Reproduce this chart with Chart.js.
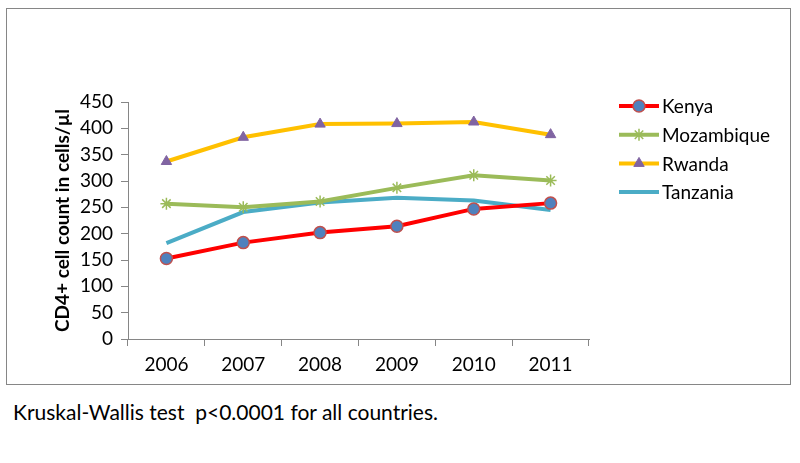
<!DOCTYPE html>
<html>
<head>
<meta charset="utf-8">
<script src="https://cdn.jsdelivr.net/npm/chart.js@4"></script>
<style>
  body { margin: 0; background: #fff; font-family: Lato, "Liberation Sans", sans-serif; }
  #box { position: absolute; left: 6px; top: 8px; width: 783px; height: 375px; border: 1px solid #868686; }
  #chart { position: absolute; left: 0; top: 0; }
  #note { position: absolute; left: 13px; top: 399px; font-size: 21px; color: #000; }
</style>
</head>
<body>
<div id="box"><canvas id="chart" width="783" height="375"></canvas></div>
<div id="note">Kruskal-Wallis test&nbsp; p&lt;0.0001 for all countries.</div>
<script>
const years = ['2006', '2007', '2008', '2009', '2010', '2011'];
const kenya = [153, 183, 202, 214, 247, 258];
const mozambique = [257, 250, 261, 287, 311, 301];
const rwanda = [337, 383, 408, 409, 412, 388];
const tanzania = [182, 241, 259, 268, 263, 245];
const yTicks = [0, 50, 100, 150, 200, 250, 300, 350, 400, 450];

const fontFam = 'Lato, "Liberation Sans", sans-serif';
const axisGray = '#868686';

// 图例：线段 + 标记
const legendPlugin = {
  id: 'lineLegend',
  afterDraw(chart) {
    const ctx = chart.ctx;
    const x0 = 612, y0 = 97, gap = 28.7;
    chart.data.datasets.forEach((ds, i) => {
      const y = y0 + i * gap;
      ctx.save();
      ctx.strokeStyle = ds.borderColor;
      ctx.lineWidth = 4;
      ctx.beginPath();
      ctx.moveTo(x0, y);
      ctx.lineTo(x0 + 40, y);
      ctx.stroke();
      if (ds.pointRadius > 0) {
        ctx.fillStyle = ds.pointBackgroundColor;
        ctx.strokeStyle = ds.pointBorderColor;
        ctx.lineWidth = ds.pointBorderWidth;
        Chart.helpers.drawPoint(ctx, {
          pointStyle: ds.pointStyle,
          radius: ds.pointRadius,
          borderWidth: ds.pointBorderWidth
        }, x0 + 20, y);
      }
      ctx.fillStyle = '#000';
      ctx.font = '19px ' + fontFam;
      ctx.textBaseline = 'middle';
      ctx.textAlign = 'left';
      ctx.fillText(ds.label, x0 + 43, y + 1);
      ctx.restore();
    });
  }
};

new Chart(document.getElementById('chart'), {
  type: 'line',
  data: {
    labels: years,
    datasets: [
      {
        label: 'Kenya', data: kenya, borderColor: '#FF0000', borderWidth: 4,
        pointStyle: 'circle', pointRadius: 6, pointBackgroundColor: '#4F81BD',
        pointBorderColor: '#C0504D', pointBorderWidth: 1.5, tension: 0
      },
      {
        label: 'Mozambique', data: mozambique, borderColor: '#9BBB59', borderWidth: 4,
        pointStyle: 'star', pointRadius: 6, pointBackgroundColor: '#9BBB59',
        pointBorderColor: '#9BBB59', pointBorderWidth: 1.5, tension: 0
      },
      {
        label: 'Rwanda', data: rwanda, borderColor: '#FFC000', borderWidth: 4,
        pointStyle: 'triangle', pointRadius: 6, pointBackgroundColor: '#8064A2',
        pointBorderColor: '#8064A2', pointBorderWidth: 1, tension: 0
      },
      {
        label: 'Tanzania', data: tanzania, borderColor: '#4BACC6', borderWidth: 4,
        pointRadius: 0, pointBackgroundColor: '#4BACC6', pointBorderColor: '#4BACC6',
        pointBorderWidth: 0, tension: 0
      }
    ]
  },
  options: {
    responsive: false,
    animation: false,
    layout: { padding: { top: 93, right: 201, left: 0, bottom: 0 } },
    plugins: { legend: { display: false }, tooltip: { enabled: false } },
    scales: {
      x: {
        offset: true,
        grid: { offset: true, drawOnChartArea: false, drawTicks: true, tickLength: 7, color: axisGray },
        border: { color: axisGray, width: 1 },
        ticks: { color: '#000', font: { size: 19, family: fontFam }, padding: 7 },
        afterFit(axis) { axis.height = 45; }
      },
      y: {
        min: 0, max: 450,
        afterBuildTicks(axis) { axis.ticks = yTicks.map(v => ({ value: v })); },
        grid: { drawOnChartArea: false, drawTicks: true, tickLength: 7, color: axisGray },
        border: { color: axisGray, width: 1 },
        ticks: { color: '#000', font: { size: 19, family: fontFam }, padding: 8 },
        title: {
          display: true, text: 'CD4+ cell count in cells/µl', color: '#000',
          font: { size: 19, weight: 'bold', family: fontFam }, padding: { top: 44, bottom: 0 }
        },
        afterFit(axis) { axis.width = 121; }
      }
    }
  },
  plugins: [legendPlugin]
});
</script>
</body>
</html>
